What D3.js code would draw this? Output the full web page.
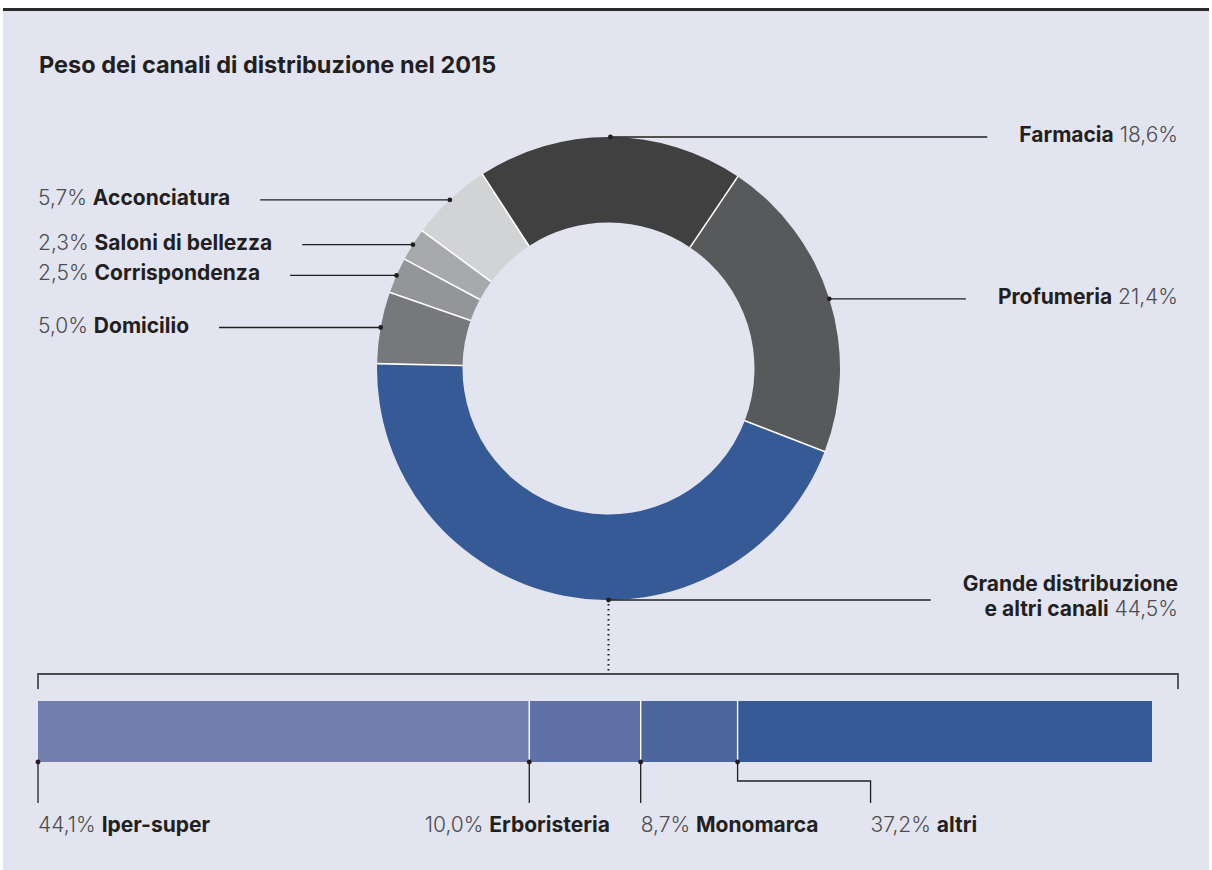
<!DOCTYPE html>
<html>
<head>
<meta charset="utf-8">
<script src="https://cdn.jsdelivr.net/npm/d3@7"></script>
<style>
  body { margin: 0; background: #ffffff; }
  svg { display: block; }
  text { font-family: Inter, "Noto Sans", "DejaVu Sans", sans-serif; }
</style>
</head>
<body>
<svg id="chart" width="1212" height="870"></svg>
<script>
// ---------------- DATA ----------------
const chartTitle = "Peso dei canali di distribuzione nel 2015";

// Donut: main distribution channels (clockwise from the top)
const channels = ["Farmacia", "Profumeria", "Grande distribuzione\ne altri canali", "Domicilio", "Corrispondenza", "Saloni di bellezza", "Acconciatura"];
const channelShares = [18.6, 21.4, 44.5, 5.0, 2.5, 2.3, 5.7];

// Breakdown bar of "Grande distribuzione e altri canali"
const subChannels = ["Iper-super", "Erboristeria", "Monomarca", "altri"];
const subShares = [44.1, 10.0, 8.7, 37.2];

// ---------------- STYLE / LAYOUT ----------------
const channelColors = ["#404040", "#58595b", "#365a96", "#77787b", "#949599", "#a7a9ac", "#d2d3d5"];
const subColors = ["#727fae", "#6072a5", "#4b669c", "#365a96"];
const bgColor = "#e2e4f0";
const inkColor = "#231f20";
const numColor = "#4d4d4f";
const detailIndex = 2;              // donut slice broken down in the bar
const subAnchors = ["start", "middle", "start", "start"];

const W = 1212, H = 870;
const cx = 608.5, cy = 368.5, rOuter = 231.5, rInner = 146;
const startDeg = -33;
const leftTextX = 38, rightTextX = 1178;
const barX0 = 38, barX1 = 1152, barY = 701, barH = 61;
const bracketY = 674, bracketX1 = 1178;
const labelFont = 21;

const locale = d3.formatLocale({decimal: ",", thousands: ".", grouping: [3], currency: ["€", ""]});
const fmt = v => locale.format(".1f")(v) + "%";

const svg = d3.select("#chart");

// background + top rule
svg.append("rect").attr("x", 3).attr("y", 10).attr("width", W - 6).attr("height", H - 10).attr("fill", bgColor);
svg.append("rect").attr("x", 3).attr("y", 8).attr("width", W - 6).attr("height", 3).attr("fill", "#2a2a2c");

// title
svg.append("text").attr("x", 39).attr("y", 73)
  .attr("font-size", 23.5).attr("font-weight", 700).attr("fill", inkColor)
  .text(chartTitle);

// ---------------- DONUT ----------------
const a0 = startDeg * Math.PI / 180;
const pie = d3.pie().sort(null).value(d => d).startAngle(a0).endAngle(a0 + 2 * Math.PI);
const arcs = pie(channelShares);
const arc = d3.arc().innerRadius(rInner).outerRadius(rOuter);

const gDonut = svg.append("g").attr("transform", `translate(${cx},${cy})`);
gDonut.selectAll("path.slice").data(arcs).join("path")
  .attr("class", "slice")
  .attr("d", arc)
  .attr("fill", (d, i) => channelColors[i]);

// white separators between slices
gDonut.selectAll("line.sep").data(arcs).join("line")
  .attr("x1", d => rInner * Math.sin(d.startAngle))
  .attr("y1", d => -rInner * Math.cos(d.startAngle))
  .attr("x2", d => (rOuter + 0.5) * Math.sin(d.startAngle))
  .attr("y2", d => -(rOuter + 0.5) * Math.cos(d.startAngle))
  .attr("stroke", "#ffffff").attr("stroke-width", 1.6);

// labels
const gLab = svg.append("g");
arcs.forEach((d, i) => {
  const ang = i === detailIndex ? Math.PI : (d.startAngle + d.endAngle) / 2;
  const px = cx + rOuter * Math.sin(ang);
  const py = cy - rOuter * Math.cos(ang);
  const right = i === detailIndex || Math.sin(ang) >= 0;
  const lines = channels[i].split("\n");
  let maxW = 0;
  if (right) {
    const baseY = lines.length > 1 ? py - 9 : py + 5;
    lines.forEach((ln, k) => {
      const t = gLab.append("text").attr("x", rightTextX).attr("y", baseY + k * 25)
        .attr("text-anchor", "end").attr("font-size", labelFont);
      t.append("tspan").attr("font-weight", 700).attr("fill", inkColor).text(ln);
      if (k === lines.length - 1) {
        t.append("tspan").attr("font-weight", 300).attr("fill", numColor).text(" " + fmt(channelShares[i]));
      }
      maxW = Math.max(maxW, t.node().getComputedTextLength());
    });
    const xEnd = rightTextX - maxW - 32;
    gLab.append("line").attr("x1", px).attr("y1", py).attr("x2", xEnd).attr("y2", py)
      .attr("stroke", inkColor).attr("stroke-width", 1.3);
  } else {
    const t = gLab.append("text").attr("x", leftTextX).attr("y", py + 5).attr("font-size", labelFont);
    t.append("tspan").attr("font-weight", 300).attr("fill", numColor).text(fmt(channelShares[i]) + " ");
    t.append("tspan").attr("font-weight", 700).attr("fill", inkColor).text(lines.join(" "));
    maxW = t.node().getComputedTextLength();
    gLab.append("line").attr("x1", leftTextX + maxW + 30).attr("y1", py).attr("x2", px).attr("y2", py)
      .attr("stroke", inkColor).attr("stroke-width", 1.3);
  }
  gLab.append("circle").attr("cx", px).attr("cy", py).attr("r", 2.4).attr("fill", inkColor);

  if (i === detailIndex) {
    gLab.append("line").attr("x1", px).attr("y1", py + 4).attr("x2", px).attr("y2", bracketY)
      .attr("stroke", inkColor).attr("stroke-width", 2).attr("stroke-dasharray", "1.6,3.4");
  }
});

// ---------------- BRACKET ----------------
svg.append("path")
  .attr("d", `M${barX0},${bracketY + 15}V${bracketY}H${bracketX1}V${bracketY + 15}`)
  .attr("fill", "none").attr("stroke", "#4a4a4c").attr("stroke-width", 1.8);

// ---------------- BAR ----------------
const x = d3.scaleLinear().domain([0, d3.sum(subShares)]).range([barX0, barX1]);
const cum = [0, ...d3.cumsum(subShares)];
const segs = subShares.map((v, i) => ({name: subChannels[i], v, s: cum[i], e: cum[i + 1], i}));

const gBar = svg.append("g");
gBar.selectAll("rect").data(segs).join("rect")
  .attr("x", d => x(d.s)).attr("y", barY)
  .attr("width", d => x(d.e) - x(d.s)).attr("height", barH)
  .attr("fill", d => subColors[d.i]);
gBar.selectAll("line.sep").data(segs.slice(1)).join("line")
  .attr("x1", d => x(d.s)).attr("x2", d => x(d.s))
  .attr("y1", barY).attr("y2", barY + barH)
  .attr("stroke", "#ffffff").attr("stroke-width", 1.4);

// bar labels
const barBottom = barY + barH;
const leaderEnd = 803, elbowY = 781, textY = 832;
let prevEnd = -Infinity;
segs.forEach((d, i) => {
  const sx = x(d.s);
  const t = gBar.append("text").attr("y", textY).attr("font-size", labelFont);
  t.append("tspan").attr("font-weight", 300).attr("fill", numColor).text(fmt(d.v) + " ");
  t.append("tspan").attr("font-weight", 700).attr("fill", inkColor).text(d.name);
  const w = t.node().getComputedTextLength();
  let lx = sx, anchor = subAnchors[i];
  if (anchor === "middle") { lx = sx - 12; }
  let left = anchor === "middle" ? lx - w / 2 : lx;
  if (anchor === "start" && left < prevEnd + 16) { lx = prevEnd + 52; left = lx; }
  t.attr("x", lx).attr("text-anchor", anchor);
  prevEnd = left + w;

  const lineX = anchor === "middle" ? sx : lx;
  if (Math.abs(lineX - sx) < 0.5) {
    gBar.append("line").attr("x1", sx).attr("x2", sx).attr("y1", barBottom).attr("y2", leaderEnd)
      .attr("stroke", inkColor).attr("stroke-width", 1.3);
  } else {
    gBar.append("path").attr("d", `M${sx},${barBottom}V${elbowY}H${lineX}V${leaderEnd}`)
      .attr("fill", "none").attr("stroke", inkColor).attr("stroke-width", 1.3);
  }
  gBar.append("circle").attr("cx", sx).attr("cy", barBottom).attr("r", 2.4).attr("fill", inkColor);
});
</script>
</body>
</html>
